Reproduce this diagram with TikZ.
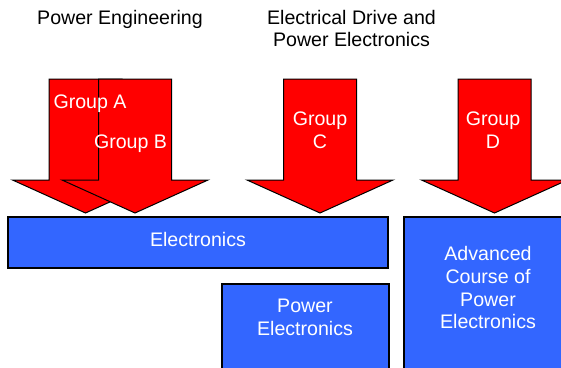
\documentclass[tikz,border=0pt]{standalone}
\usepackage{fontspec}
\setmainfont{Liberation Sans}
\definecolor{boxblue}{RGB}{51,102,255}
\definecolor{arrred}{RGB}{255,0,0}
\begin{document}
\begin{tikzpicture}[x=1pt,y=-1pt,
  bigarrow/.style={fill=arrred,draw=black,line width=1pt,line join=miter},
  bluebox/.style={fill=boxblue,draw=black,line width=1.4pt},
  lbl/.style={font=\fontsize{19.6}{22.6}\selectfont,align=center,anchor=base,inner sep=0pt},
  wlbl/.style={lbl,text=white}]
\useasboundingbox (0,0) rectangle (561,367);
\newcommand{\grparrow}[1]{%
  \draw[bigarrow] (#1-36.5,79) -- (#1+36.5,79) -- (#1+36.5,180) -- (#1+73,180)
    -- (#1,213) -- (#1-73,180) -- (#1-36.5,180) -- cycle;}
\begin{scope}
\clip (0,0) rectangle (561,367);
\grparrow{85.5}
\grparrow{135}
\grparrow{320}
\grparrow{494.5}
\draw[bluebox] (8,217) rectangle (388,268);
\draw[bluebox] (222,284) rectangle (389,372);
\draw[bluebox] (404,217) rectangle (570,372);
\end{scope}
\node[lbl] (pe) at (120,24) {Power Engineering};
\node[lbl] (ed) at (351.5,46.7) {Electrical Drive and\\Power Electronics};
\node[wlbl] (ga) at (90,108) {Group A};
\node[wlbl] (gb) at (130.5,148) {Group B};
\node[wlbl] (gc) at (320,148) {Group\\C};
\node[wlbl] (gd) at (493,148) {Group\\D};
\node[wlbl] (el) at (198,246) {Electronics};
\node[wlbl] (pel) at (305,335) {Power\\Electronics};
\node[wlbl] (adv) at (488,328.6) {Advanced\\Course of\\Power\\Electronics};
\end{tikzpicture}
\end{document}
